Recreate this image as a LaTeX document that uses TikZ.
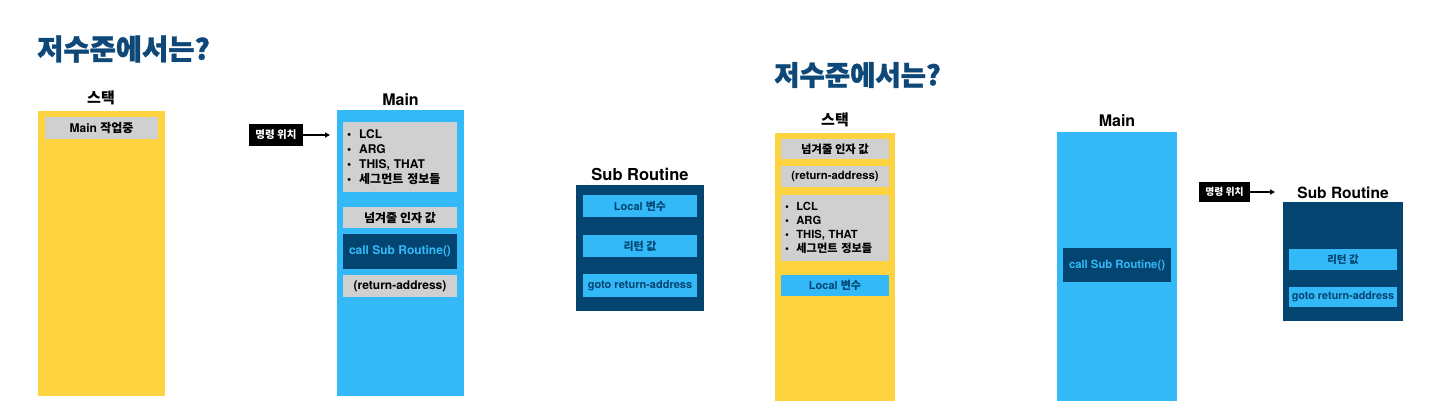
\documentclass[tikz,border=0pt]{standalone}
\usepackage{fontspec}
\setmainfont{TeX Gyre Heros}
\newfontfamily\kr{Noto Sans CJK KR}
\newfontfamily\krheavy{Noto Sans CJK KR}[UprightFeatures={FakeBold=1.2},BoldFeatures={FakeBold=1.2}]
\usetikzlibrary{arrows.meta}
\definecolor{stackyellow}{RGB}{253,211,63}
\definecolor{mainblue}{RGB}{51,185,248}
\definecolor{subnavy}{RGB}{3,69,112}
\definecolor{itemgray}{RGB}{208,208,208}
\definecolor{titleblue}{RGB}{14,72,120}

\begin{document}
\begin{tikzpicture}[x=1pt,y=-1pt,>={Triangle[length=5pt,width=5pt]},
  every node/.style={inner sep=0pt},
  box/.style 2 args={minimum width=#1,minimum height=#2},
  bigtitle/.style={text=titleblue,font=\krheavy\bfseries\fontsize{#1}{#1}\selectfont},
  heading/.style={font=\bfseries\fontsize{#1}{#1}\selectfont},
  stackcol/.style={fill=stackyellow},
  maincol/.style={fill=mainblue},
  subcol/.style={fill=subnavy},
  grayitem/.style={fill=itemgray,font=\bfseries\fontsize{#1}{#1}\selectfont},
  blueitem/.style={fill=mainblue,text=subnavy,font=\bfseries\fontsize{#1}{#1}\selectfont},
  darkitem/.style={fill=subnavy,text=mainblue,font=\bfseries\fontsize{#1}{#1}\selectfont},
  regbox/.style 2 args={fill=itemgray,align=left,inner xsep=4pt,
    font=\bfseries\fontsize{#1}{#2}\selectfont},
  pcbox/.style={fill=black,text=white,font=\kr\bfseries\fontsize{#1}{#1}\selectfont}]
\useasboundingbox (0,0) rectangle (1430,416);

\node[bigtitle=28.5,anchor=west] (title1) at (37,49) {저수준에서는?};
\node[heading=15] (stacklbl1) at (101,98) {\kr 스택};
\node[stackcol,box={127}{285}] (stack1) at (101.5,253.5) {};
\node[grayitem=12,box={113}{22}] (job1) at (101.5,128) {Main {\kr 작업중}};

\node[pcbox=10.5,box={54}{22}] (pc1) at (276,135) {명령 위치};
\coordinate (pcend1) at (330,135);
\draw[->,line width=1.2pt] (pc1.east) -- (pcend1);

\node[heading=16] (mainlbl1) at (400.5,100) {Main};
\node[maincol,box={127}{286}] (main1) at (400.5,253) {};
\node[regbox={12}{15},text width=106pt,box={114}{70}] (regs1) at (400,157)
  {\textbullet\ \ LCL\\\textbullet\ \ ARG\\\textbullet\ \ THIS, THAT\\\textbullet\ \ {\kr 세그먼트 정보들}};
\node[grayitem=12,box={114}{21}] (args1) at (400,217.5) {\kr 넘겨줄 인자 값};
\node[darkitem=12,box={114}{35}] (call1) at (400,251.5) {call Sub Routine()};
\node[grayitem=12,box={114}{22}] (ret1) at (400,286) {(return-address)};

\node[heading=16.5] (sublbl1) at (640,174) {Sub Routine};
\node[subcol,box={128}{126}] (sub1) at (640,248) {};
\node[blueitem=11,box={114}{22}] (local1) at (640,206) {Local {\kr 변수}};
\node[blueitem=11,box={114}{22}] (retval1) at (640,246) {\kr 리턴 값};
\node[blueitem=11,box={114}{23}] (goto1) at (640,285.5) {goto return-address};

\node[bigtitle=27.5,anchor=west] (title2) at (774,75) {저수준에서는?};
\node[heading=15] (stacklbl2) at (835,120) {\kr 스택};
\node[stackcol,box={120}{268}] (stack2) at (835,267) {};
\node[grayitem=11.3,box={108}{20}] (args2) at (835,149) {\kr 넘겨줄 인자 값};
\node[grayitem=11.3,box={108}{21}] (ret2) at (835,176.5) {(return-address)};
\node[regbox={11.2}{13.8},text width=100pt,box={108}{66}] (regs2) at (835,228)
  {\textbullet\ \ LCL\\\textbullet\ \ ARG\\\textbullet\ \ THIS, THAT\\\textbullet\ \ {\kr 세그먼트 정보들}};
\node[blueitem=11,box={108}{21}] (local2) at (835,285.5) {Local {\kr 변수}};

\node[heading=16] (mainlbl2) at (1117,121) {Main};
\node[maincol,box={120}{269}] (main2) at (1117,266.5) {};
\node[darkitem=11.3,box={108}{34}] (call2) at (1117,265) {call Sub Routine()};

\node[pcbox=9.8,box={51}{20}] (pc2) at (1224.5,192) {명령 위치};
\coordinate (pcend2) at (1275,192);
\draw[->,line width=1.2pt] (pc2.east) -- (pcend2);

\node[heading=15.5] (sublbl2) at (1343,193) {Sub Routine};
\node[subcol,box={120}{119}] (sub2) at (1343,261.5) {};
\node[blueitem=10.5,box={108}{21}] (retval2) at (1343,259.5) {\kr 리턴 값};
\node[blueitem=10.8,box={108}{20}] (goto2) at (1343,297) {goto return-address};
\end{tikzpicture}
\end{document}
